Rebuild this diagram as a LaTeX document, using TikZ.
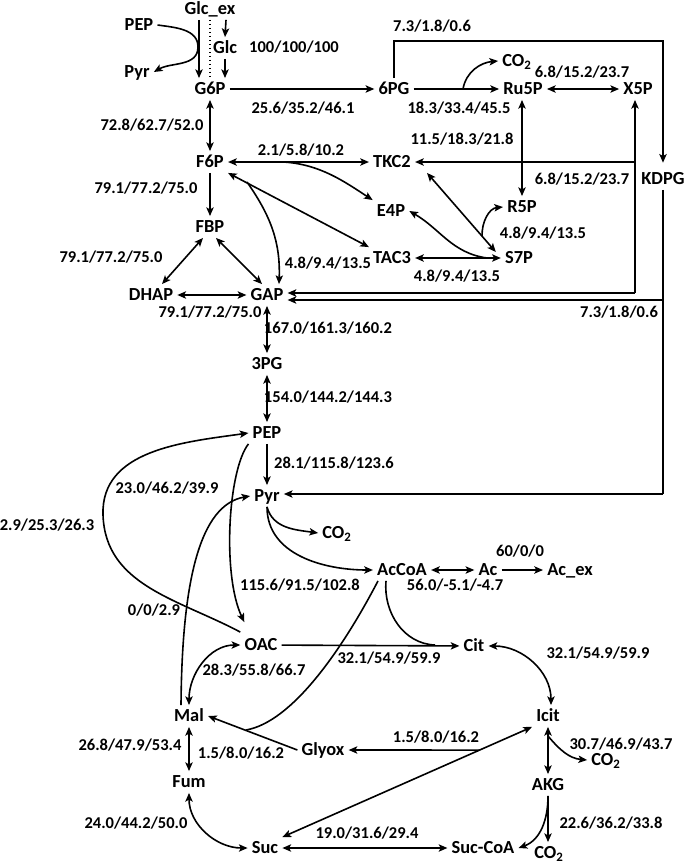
\documentclass[tikz,border=0pt]{standalone}
\usepackage{fontspec}
\setmainfont{Carlito}
\usetikzlibrary{arrows.meta,calc}
\begin{document}
\begin{tikzpicture}[x=0.75pt,y=-0.75pt,
  met/.style={font=\fontsize{13.8}{15}\selectfont\bfseries, inner sep=3pt, text height=9pt, text depth=1pt},
  lab/.style={font=\fontsize{12.4}{14}\selectfont\bfseries, inner sep=0pt},
  ln/.style={line width=1.2pt},
  tip/.tip={Stealth[length=6.5pt,width=5.5pt,inset=1.5pt]},
  ar/.style={ln, -tip},
  ar2/.style={ln, tip-tip},
]
\useasboundingbox (0,0) rectangle (685,865);
% metabolites
\node[met] (Glcex) at (210,9) {Glc\_ex};
\node[met] (PEPt) at (139,25) {PEP};
\node[met] (Pyrt) at (137,72) {Pyr};
\node[met] (Glc) at (225,48) {Glc};
\node[met] (G6P) at (210,89) {G6P};
\node[met] (PGs) at (394,89) {6PG};
\node[met] (Ru5P) at (523,89) {Ru5P};
\node[met] (CO2a) at (517,61) {CO\textsubscript{2}};
\node[met] (X5P) at (638,89) {X5P};
\node[met] (KDPG) at (663,179) {KDPG};
\node[met] (F6P) at (210,162) {F6P};
\node[met] (TKC2) at (392,162) {TKC2};
\node[met] (R5P) at (522,207) {R5P};
\node[met] (E4P) at (391,211) {E4P};
\node[met] (FBP) at (210,227) {FBP};
\node[met] (TAC3) at (392,258) {TAC3};
\node[met] (S7P) at (519,258) {S7P};
\node[met] (DHAP) at (151,295) {DHAP};
\node[met] (GAP) at (267,295) {GAP};
\node[met] (PGt) at (267,364) {3PG};
\node[met] (PEP) at (267,433) {PEP};
\node[met] (Pyr) at (267,496) {Pyr};
\node[met] (CO2b) at (337,533) {CO\textsubscript{2}};
\node[met] (AcCoA) at (402,570) {AcCoA};
\node[met] (Ac) at (488,570) {Ac};
\node[met] (Acex) at (570,570) {Ac\_ex};
\node[met] (OAC) at (261,645) {OAC};
\node[met] (Cit) at (474,646) {Cit};
\node[met] (Mal) at (189,716) {Mal};
\node[met] (Glyox) at (323,750) {Glyox};
\node[met] (Icit) at (548,716) {Icit};
\node[met] (CO2c) at (606,760) {CO\textsubscript{2}};
\node[met] (AKG) at (548,785) {AKG};
\node[met] (Fum) at (189,782) {Fum};
\node[met] (Suc) at (265,848) {Suc};
\node[met] (SucCoA) at (483,848) {Suc-CoA};
\node[met] (CO2d) at (549,853) {CO\textsubscript{2}};
% labels
\node[lab] (L1) at (294,47) {100/100/100};
\node[lab] (L2) at (432,26) {7.3/1.8/0.6};
\node[lab] (L3) at (303,108) {25.6/35.2/46.1};
\node[lab] (L4) at (459,108) {18.3/33.4/45.5};
\node[lab] (L5) at (582,72) {6.8/15.2/23.7};
\node[lab] (L6) at (152,125) {72.8/62.7/52.0};
\node[lab] (L7) at (462,139) {11.5/18.3/21.8};
\node[lab] (L8) at (301,150) {2.1/5.8/10.2};
\node[lab] (L9) at (582,179) {6.8/15.2/23.7};
\node[lab] (L10) at (146,188) {79.1/77.2/75.0};
\node[lab] (L11) at (111,257) {79.1/77.2/75.0};
\node[lab] (L12) at (328,263) {4.8/9.4/13.5};
\node[lab] (L13) at (543,233) {4.8/9.4/13.5};
\node[lab] (L14) at (457,276) {4.8/9.4/13.5};
\node[lab] (L15) at (210,312) {79.1/77.2/75.0};
\node[lab] (L16) at (328,328) {167.0/161.3/160.2};
\node[lab] (L17) at (619,312) {7.3/1.8/0.6};
\node[lab] (L18) at (328,397) {154.0/144.2/144.3};
\node[lab] (L19) at (334,463) {28.1/115.8/123.6};
\node[lab] (L20) at (167,488) {23.0/46.2/39.9};
\node[lab] (L21) at (47,525) {2.9/25.3/26.3};
\node[lab] (L22) at (300,585) {115.6/91.5/102.8};
\node[lab] (L23) at (520,551) {60/0/0};
\node[lab] (L24) at (455,585) {56.0/-5.1/-4.7};
\node[lab] (L25) at (154,610) {0/0/2.9};
\node[lab] (L26) at (254,670) {28.3/55.8/66.7};
\node[lab] (L27) at (389,658) {32.1/54.9/59.9};
\node[lab] (L28) at (598,653) {32.1/54.9/59.9};
\node[lab] (L29) at (130,745) {26.8/47.9/53.4};
\node[lab] (L30) at (241,753) {1.5/8.0/16.2};
\node[lab] (L31) at (436,737) {1.5/8.0/16.2};
\node[lab] (L32) at (621,744) {30.7/46.9/43.7};
\node[lab] (L33) at (136,823) {24.0/44.2/50.0};
\node[lab] (L34) at (367,833) {19.0/31.6/29.4};
\node[lab] (L35) at (611,823) {22.6/36.2/33.8};
% helper coordinates
\coordinate (co2br) at (463,89);
\coordinate (kdtop) at (663,41);
\coordinate (b1) at (635,293);
\coordinate (b2) at (635,162);
\coordinate (k1) at (663,300);
\coordinate (k2) at (663,494);
\coordinate (e4br) at (283,162);
\coordinate (gapbr) at (247,182);
\coordinate (lm) at (103,515);
\coordinate (citj) at (435,645);
\coordinate (malj) at (246,730);
\coordinate (icj) at (548,736);
\coordinate (e4j) at (487,258);
% glucose uptake
\draw[ar] ($(Glcex.south)+(-11,0)$) -- ($(G6P.north)+(-11,0)$);
\draw[line width=1pt, dotted] (Glcex.south) -- (G6P.north);
\draw[ar] ($(Glcex.south)+(16,0)$) -- (Glc.north);
\draw[ar] (Glc.south) -- ($(G6P.north)+(15,0)$);
\draw[ar] (PEPt.east) to[out=-8,in=90] (198,47) to[out=-90,in=30] (Pyrt.east);
% PP pathway
\draw[ar] (G6P.east) -- (PGs.west);
\draw[ar] (PGs.east) -- (Ru5P.west);
\draw[ar] (co2br) to[out=80,in=185] (CO2a.west);
\draw[ar2] (Ru5P.east) -- (X5P.west);
\draw[ar,shorten >=4pt] (PGs.north) |- (kdtop) -- (KDPG.north);
\draw[ar2] (Ru5P.south -| R5P.north) -- (R5P.north);
\draw[ar] (b1) -- (b1 |- X5P.south);
\draw[ar] (b1) -- (GAP.east |- b1);
\draw[ar] (b2) -- (TKC2.east |- b2);
\draw[ln] (KDPG.south) -- (k2);
\draw[ar] (k2) -- (Pyr.east |- k2);
\draw[ar] (k1) -- (GAP.east |- k1);
% upper glycolysis
\draw[ar2] (G6P) -- (F6P);
\draw[ar] (F6P) -- (FBP);
\draw[ar2] (F6P) -- (TKC2);
\draw[ar] (e4br) .. controls (320,164) and (345,182) .. (E4P.north west);
\draw[ar2] (F6P.south east) -- (TAC3.north west);
\draw[ar] (gapbr) to[out=-55,in=88] ($(GAP.north)+(12,0)$);
\draw[ar2] ($(FBP.south)+(-7,0)$) -- ($(DHAP.north)+(11,0)$);
\draw[ar2] ($(FBP.south)+(6,0)$) -- ($(GAP.north)+(-5,0)$);
\draw[ar2] (DHAP) -- (GAP);
% non-oxidative PP
\draw[ar2] ($(TKC2.south east)+(12,0)$) -- ($(S7P.west)+(-5,-6)$);
\draw[ar] ($($(TKC2.south east)+(12,0)$)!0.8!($(S7P.west)+(-5,-6)$)$) to[out=92,in=185] (R5P.west);
\draw[ar2] (TAC3) -- (S7P);
\draw[ar] (e4j) to[out=172,in=-30] (E4P.east);
% lower glycolysis
\draw[ar2] (GAP) -- (PGt);
\draw[ar2] (PGt) -- (PEP);
\draw[ar] (PEP) -- (Pyr);
\draw[ar] (Pyr.south) to[out=-75,in=172] (CO2b.west);
\draw[ar] (Pyr.south) to[out=-90,in=180] (AcCoA.west);
\draw[ar] (PEP.south west) .. controls (228,470) and (222,575) .. ($(OAC.north west)+(4,-12)$);
\draw[ar] ($(OAC.north west)+(0,-2)$) to[out=152,in=-88] (lm) to[out=92,in=188] (PEP.west);
\draw[ar] ($(Mal.north)+(-8,0)$) .. controls (182,580) and (200,505) .. (Pyr.west);
% acetate
\draw[ar2] (AcCoA) -- (Ac);
\draw[ar] (Ac) -- (Acex);
% TCA
\draw[ar2] (Mal.north) to[out=90,in=180] (OAC.west);
\draw[ar] (OAC) -- (Cit);
\draw[ln] ($(AcCoA.south)+(-16,0)$) to[out=-95,in=178] (citj);
\draw[ln] ($(AcCoA.south)+(-24,0)$) .. controls (342,650) and (292,722) .. (malj);
\draw[ar] (Glyox.west) -- (Mal.east);
\draw[ar2] (Suc.north east) -- (Icit.south west);
\draw[ar] ($(Suc.north east)!0.79!(Icit.south west)$) -- (Glyox.east);
\draw[ar2] (Cit.east) to[out=0,in=90] ($(Icit.north)+(3,0)$);
\draw[ar2] (Icit) -- (AKG);
\draw[ar] (icj) to[out=-50,in=175] (CO2c.west);
\draw[ar] (AKG.south) -- (AKG.south |- CO2d.north);
\draw[ar] (AKG.south) to[out=-90,in=20] (SucCoA.east);
\draw[ar2] (SucCoA) -- (Suc);
\draw[ar2] (Fum.south) to[out=-90,in=180] (Suc.west);
\draw[ar2] (Mal) -- (Fum);
\end{tikzpicture}
\end{document}
